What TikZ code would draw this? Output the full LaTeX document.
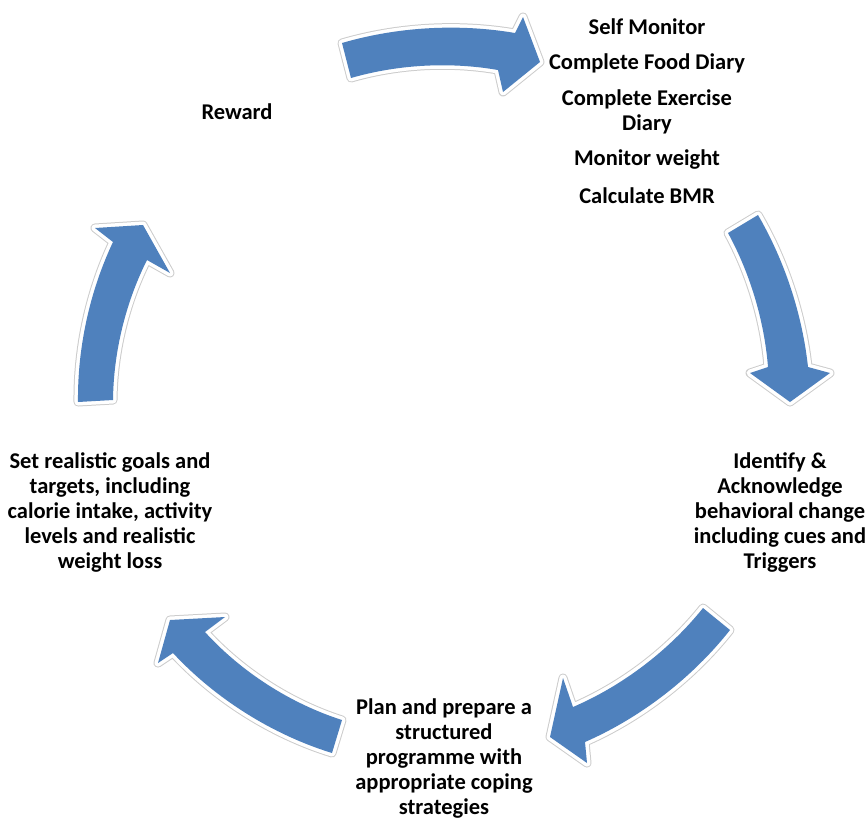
\documentclass[tikz,border=0pt]{standalone}
\usepackage{fontspec}
\setmainfont{Carlito}
\definecolor{arrowblue}{HTML}{4F81BD}
\begin{document}
\begin{tikzpicture}[x=1pt,y=-1pt,
  cyclearrow/.style={fill=arrowblue,
    preaction={draw=black!20, line width=9pt, line join=round},
    preaction={draw=white, line width=7pt, line join=round}},
  curve/.style={looseness=0.85},
  step text/.style={font=\fontsize{22.5pt}{25pt}\selectfont\bfseries,
    align=center, inner sep=0pt, text=black}]
\useasboundingbox (0,0) rectangle (866,820);

% curved block arrows, running clockwise around the cycle
\path[cyclearrow] (342,43) to[curve, bend left=13] (515,33) -- (523,17) -- (540,62)
  -- (503,92) -- (498,70) to[curve, bend right=13] (351,78) -- cycle;
\path[cyclearrow] (758,215) to[curve, bend left=12] (808,367) -- (830,373) -- (790,402)
  -- (750,373) -- (768,367) to[curve, bend right=12] (728,233) -- cycle;
\path[cyclearrow] (730,630) to[curve, bend left=14] (585,742) -- (587,763) -- (550,737)
  -- (563,678) -- (573,707) to[curve, bend right=14] (703,608) -- cycle;
\path[cyclearrow] (332,753) to[curve, bend left=15] (173,653) -- (158,663) -- (170,620)
  -- (225,617) -- (205,632) to[curve, bend right=15] (342,720) -- cycle;
\path[cyclearrow] (78,402) to[curve, bend left=13] (113,242) -- (95,228) -- (143,225)
  -- (170,273) -- (147,260) to[curve, bend right=13] (113,400) -- cycle;

% step texts
\node[step text] (reward) at (237,112) {Reward};
\node[step text] (selfmon) at (647,27) {Self Monitor};
\node[step text] (food) at (647,63) {Complete Food Diary};
\node[step text] (exercise) at (647,112) {Complete Exercise\\Diary};
\node[step text] (weight) at (647,160) {Monitor weight};
\node[step text] (bmr) at (647,196) {Calculate BMR};
\node[step text] (identify) at (780,512)
  {Identify \&\\Acknowledge\\behavioral change\\including cues and\\Triggers};
\node[step text] (plan) at (444,758)
  {Plan and prepare a\\structured\\programme with\\appropriate coping\\strategies};
\node[step text] (goals) at (110,512)
  {Set realistic goals and\\targets, including\\calorie intake, activity\\levels and realistic\\weight loss};
\end{tikzpicture}
\end{document}
